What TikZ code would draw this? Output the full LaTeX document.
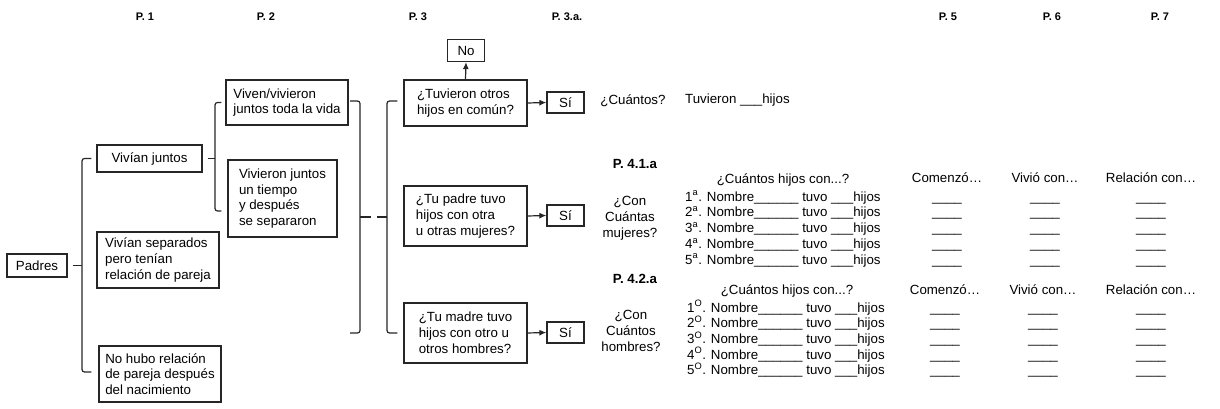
\documentclass[tikz,border=0pt]{standalone}
\usepackage{fontspec}
\setmainfont{Liberation Sans}
\usetikzlibrary{arrows.meta, calc}

\tikzset{
  caja/.style={draw=black!85, line width=1.2pt, align=left, inner sep=5pt},
  flecha/.style={draw=black!85, line width=1.2pt, -{Latex[length=7pt, width=6pt]}},
  corchete/.style={draw=black!85, line width=1.2pt, rounded corners=2.5pt},
  titulo/.style={font=\fontsize{11}{13}\selectfont\bfseries},
  subtitulo/.style={font=\fontsize{13.3}{15.8}\selectfont\bfseries},
  pregunta/.style={align=center},
}

\begin{document}
\begin{tikzpicture}[x=1pt, y=-1pt, every node/.append style={font=\fontsize{13.3}{15.8}\selectfont}]
		\useasboundingbox (0,0) rectangle (1220,409);

		%encabezados:
		\foreach \t/\x in {P. 1/145, P. 2/266, P. 3/418, P. 3.a./567, P. 5/948, P. 6/1052, P. 7/1160}
			\node[titulo] (tit\x) at (\x,17) {\t};

		%P. 1
		\node[caja, minimum width=60pt, minimum height=23pt] (padres) at (37,265.5) {Padres};
		\node[caja, minimum width=105pt, minimum height=27pt] (juntos) at (149.5,158.5) {Vivían juntos};
		\node[caja, minimum width=122pt, minimum height=56pt] (separados) at (158,260) {Vivían separados\\pero tenían\\relación de pareja};
		\node[caja, minimum width=122pt, minimum height=56pt] (nohubo) at (160,374) {No hubo relación\\de pareja después\\del nacimiento};
		\draw[corchete] ($(padres.east)+(5,0)$) -- (82,265.5);
		\draw[corchete] ($(juntos.west)+(-5,0)$) -- (82,158.5) |- ($(nohubo.west)+(-7,-2)$);

		%P. 2
		\node[caja, minimum width=122pt, minimum height=45pt] (viven) at (287,102.5) {Viven/vivieron\\juntos toda la vida};
		\node[caja, minimum width=109pt, minimum height=77pt] (vivieron) at (282.5,198.5) {Vivieron juntos\\un tiempo\\y después\\se separaron};
		\draw[corchete] ($(juntos.east)+(5,0)$) -- (215,158.5);
		\draw[corchete] ($(viven.west)+(-4,0)$) -- (215,102.5) |- ($(vivieron.west)+(-6,12.5)$);

		%llave doble:
		\draw[corchete] (350,101) -| (360,333) -- (350,333);
		\draw[corchete] (360,217) -- (371,217);
		\draw[corchete] (377,217) -- (387,217);

		%P. 3
		\node[caja, minimum width=123pt, minimum height=46pt] (tuvieron) at (465.5,103) {¿Tuvieron otros\\hijos en común?};
		\node[caja, minimum width=123pt, minimum height=60pt] (padre) at (465.5,216) {¿Tu padre tuvo\\hijos con otra\\u otras mujeres?};
		\node[caja, minimum width=123pt, minimum height=60pt] (madre) at (465.5,333) {¿Tu madre tuvo\\hijos con otro u\\otros hombres?};
		\draw[corchete] ($(tuvieron.west)+(-6,-2)$) -| (387,217) |- ($(madre.west)+(-6,0)$);

		\node[caja, minimum width=37pt, minimum height=22pt, inner sep=2pt] (no) at (466,50.5) {No};
		\node[caja, minimum width=37pt, minimum height=21pt, inner sep=2pt] (si1) at (565.5,102.5) {Sí};
		\node[caja, minimum width=37pt, minimum height=21pt, inner sep=2pt] (si2) at (565.5,215.5) {Sí};
		\node[caja, minimum width=37pt, minimum height=21pt, inner sep=2pt] (si3) at (565.5,332.5) {Sí};
		\draw[flecha] (tuvieron.north) -- (no.south);
		\draw[flecha] (tuvieron.east) -- (si1.west);
		\draw[flecha] (padre.east) -- (si2.west);
		\draw[flecha] (madre.east) -- (si3.west);

		%P. 3.a.
		\node (cuantos) at (633,101) {¿Cuántos?};
		\node[anchor=west, inner xsep=0pt] (tuvhijos) at (685,100) {Tuvieron \_\_\_hijos};
		\node[pregunta] (conmuj) at (630,218) {¿Con\\Cuántas\\mujeres?};
		\node[pregunta] (conhom) at (631,331) {¿Con\\Cuántos\\hombres?};
		\node[subtitulo] (p41) at (635,164) {P. 4.1.a};
		\node[subtitulo] (p42) at (635,279) {P. 4.2.a};

		%tabla mujeres
		\node (cuantasm) at (783,180) {¿Cuántos hijos con...?};
		\foreach \t/\x in {Comenzó…/947, Vivió con…/1045, Relación con…/1151}
			\node (cm\x) at (\x,178) {\t};
		\foreach \n in {1,...,5} {
			\node[anchor=base west, inner xsep=0pt] (m\n) at (685,{185.2+15.8*\n}) {\n\textsuperscript{a}. Nombre\_\_\_\_\_\_ tuvo \_\_\_hijos};
			\foreach \x in {947,1045,1151}
				\node[anchor=base] (bm\n\x) at (\x,{185.2+15.8*\n}) {\_\_\_\_};
		}

		%tabla hombres
		\node (cuantash) at (787,291) {¿Cuántos hijos con...?};
		\foreach \t/\x in {Comenzó…/945, Vivió con…/1043, Relación con…/1151}
			\node (ch\x) at (\x,290) {\t};
		\foreach \n in {1,...,5} {
			\node[anchor=base west, inner xsep=0pt] (h\n) at (687,{296.3+15.7*\n}) {\n\textsuperscript{O}. Nombre\_\_\_\_\_\_ tuvo \_\_\_hijos};
			\foreach \x in {945,1043,1151}
				\node[anchor=base] (bh\n\x) at (\x,{296.3+15.7*\n}) {\_\_\_\_};
		}
\end{tikzpicture}
\end{document}
